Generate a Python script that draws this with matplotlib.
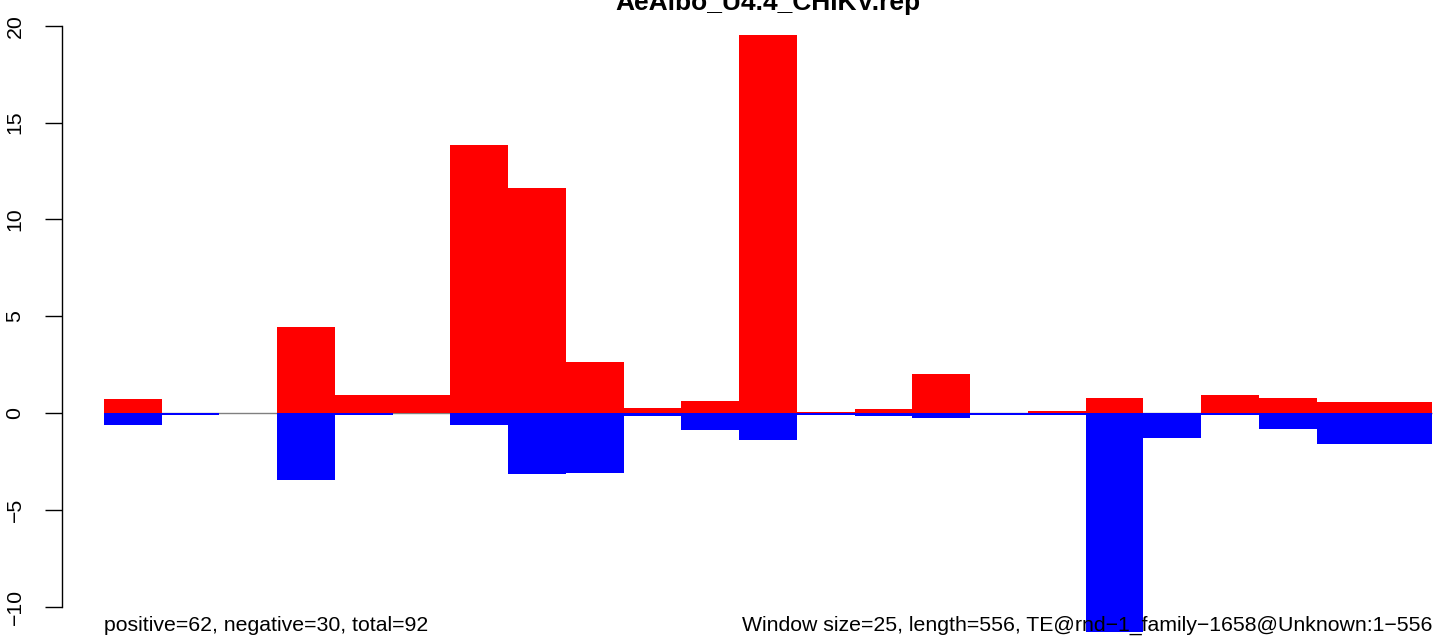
import matplotlib
matplotlib.use("Agg")
import matplotlib.pyplot as plt
import numpy as np

plt.rcParams['font.family'] = ['Liberation Sans', 'DejaVu Sans']

# one value per window of 25 bp
windows = np.arange(23)
pos_vals = [0.72, 0.0, 0.0, 4.44, 0.93, 0.93, 13.84, 11.62, 2.64, 0.26, 0.62, 19.52,
            0.05, 0.21, 2.02, 0.0, 0.10, 0.79, 0.0, 0.93, 0.77, 0.57, 0.57]
neg_vals = [-0.60, -0.09, 0.0, -3.44, -0.09, 0.0, -0.60, -3.13, -3.08, -0.14, -0.86, -1.38,
            -0.09, -0.14, -0.26, -0.10, -0.10, -11.31, -1.29, -0.10, -0.81, -1.60, -1.60]
y_ticks = [-10, -5, 0, 5, 10, 15, 20]

title = "AeAlbo_U4.4_CHIKV.rep"
left_note = "positive=62, negative=30, total=92"
right_note = "Window size=25, length=556, TE@rnd\u22121_family\u22121658@Unknown:1\u2212556"

W, H = 1450, 637
fig = plt.figure(figsize=(W / 100, H / 100), dpi=100)
ax = fig.add_axes([0, 0, 1, 1])

# pixel layout of the original (bars from x=104, 57.74 px wide; 19.36 px per unit, zero at y=413)
bw = 57.74
ax.set_xlim(-104 / bw, (W - 104) / bw)
ax.set_ylim((413 - H) / 19.36, 413 / 19.36)

ax.hlines(0, 0, len(windows), color='gray', lw=1, zorder=1)
ax.bar(windows, pos_vals, width=1, align='edge', color='red', linewidth=0, zorder=2)
ax.bar(windows, neg_vals, width=1, align='edge', color='blue', linewidth=0, zorder=2)

for s in ['top', 'right', 'bottom']:
    ax.spines[s].set_visible(False)
ax.spines['left'].set_position(('axes', 62 / W))
ax.spines['left'].set_bounds(-10, 20)
ax.spines['left'].set_linewidth(1)
ax.set_xticks([])
ax.set_yticks(y_ticks)
ax.set_yticklabels([str(t).replace('-', '\u2212') for t in y_ticks], rotation=90, va='center')
ax.tick_params(axis='y', length=12, width=1, pad=15, labelsize=15.3)

fig.text(768 / W, 1 - 10 / H, title, ha='center', va='baseline', fontsize=19, fontweight='bold')
fig.text(104 / W, 1 - 631 / H, left_note, ha='left', va='baseline', fontsize=15.3)
fig.text(1432 / W, 1 - 631 / H, right_note, ha='right', va='baseline', fontsize=15.3)

fig.savefig('out.png', dpi=100)
